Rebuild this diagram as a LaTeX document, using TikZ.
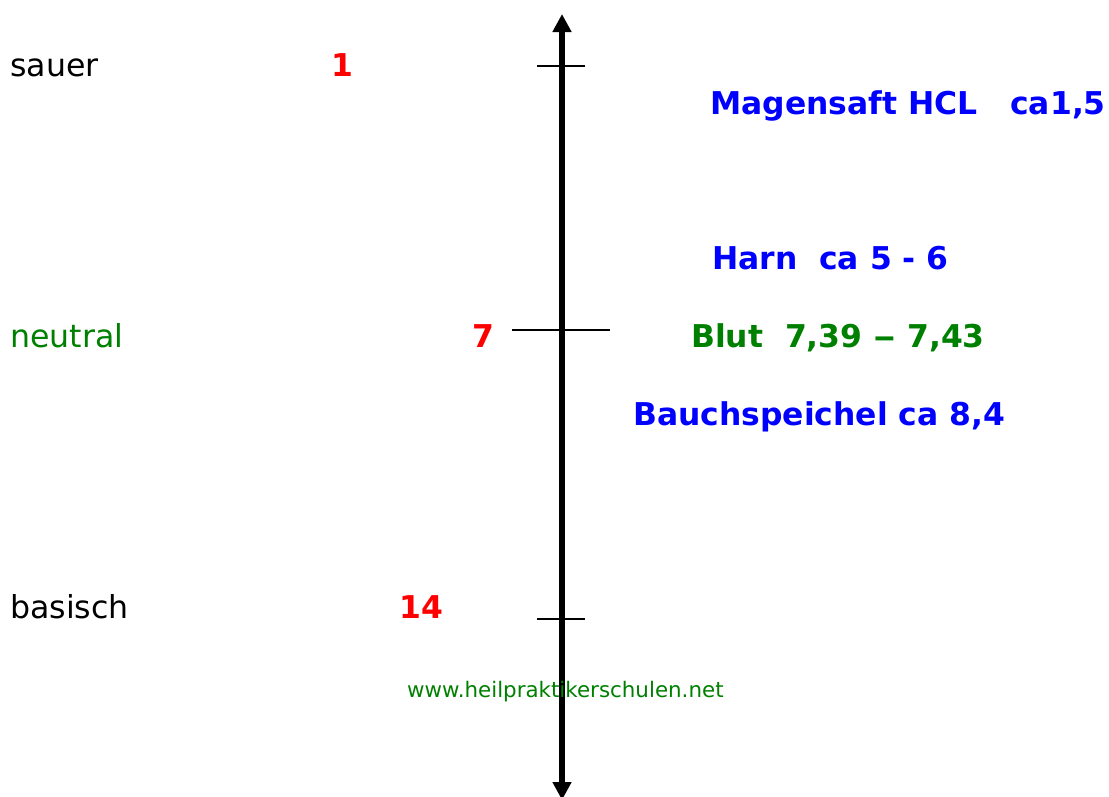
\documentclass[tikz,border=0pt]{standalone}
\usepackage{fontspec}
\setmainfont{DejaVu Sans}
\usetikzlibrary{arrows.meta}
\definecolor{phblue}{RGB}{0,0,255}
\definecolor{phgreen}{RGB}{0,128,0}
\definecolor{phred}{RGB}{255,0,0}

\begin{document}
\begin{tikzpicture}[x=1pt, y=-1pt,
    lbl/.style={anchor=base west, inner sep=0pt, font=\fontsize{31.6}{36}\selectfont},
    val/.style={lbl, font=\fontsize{31.4}{36}\selectfont\bfseries},
    axis/.style={line width=6pt, {Triangle[width=18pt,length=18pt]}-{Triangle[width=18pt,length=18pt]}},
    tick/.style={line width=1.5pt}]
    \useasboundingbox (0,0) rectangle (1109,796);
    % pH axis
    \coordinate (top) at (562,14);
    \coordinate (bot) at (562,800);
    \draw[axis] (bot) -- (top);
    \draw[tick] (537,66) -- (585,66);
    \draw[tick] (512,330) -- (610,330);
    \draw[tick] (537,619) -- (585,619);
    % scale labels
    \node[lbl] (sauer) at (10,76) {sauer};
    \node[lbl, phgreen] (neutral) at (10,347) {neutral};
    \node[lbl] (basisch) at (10,618) {basisch};
    \node[val, phred] (one) at (331,76) {1};
    \node[val, phred] (seven) at (472,347) {7};
    \node[val, phred] (fourteen) at (399,618) {14};
    % body fluids
    \node[val, phblue] (magen) at (710,114) {Magensaft HCL\ \ \ ca1,5};
    \node[val, phblue] (harn) at (712,269) {Harn\ \ ca 5 - 6};
    \node[val, phgreen] (blut) at (691,347) {Blut\ \ 7,39 \scalebox{1.45}[1]{–} 7,43};
    \node[val, phblue] (bauch) at (633,425) {Bauchspeichel ca 8,4};
    \node[lbl, phgreen, font=\fontsize{21.4}{25}\selectfont] (web) at (407,697) {www.heilpraktikerschulen.net};
\end{tikzpicture}
\end{document}
